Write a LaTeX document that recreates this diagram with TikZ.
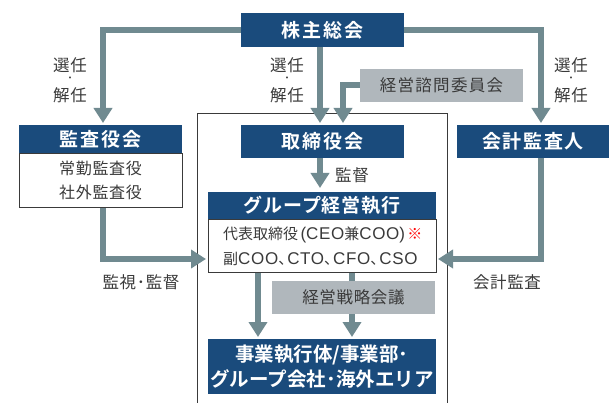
\documentclass[tikz,border=0pt]{standalone}
\usepackage{fontspec}
\setmainfont{Noto Sans CJK JP}
\newfontfamily\cjkb[LetterSpace=9]{Noto Sans CJK JP Bold}
\newfontfamily\cjkbb[LetterSpace=4]{Noto Sans CJK JP Bold}
\newfontfamily\cjkbz{Noto Sans CJK JP Bold}
\newfontfamily\cjk[LetterSpace=4]{Noto Sans CJK JP}
\newfontfamily\cjkw[LetterSpace=8]{Noto Sans CJK JP}
\newfontfamily\cjkz{Noto Sans CJK JP}
\newfontfamily\latw[LetterSpace=4]{Liberation Sans}
\newcommand{\lw}[1]{{\fontsize{17}{25}\selectfont\latw #1}}
\newcommand{\tc}{\makebox[9pt][l]{、}}
\newcommand{\lpar}{\makebox[8pt][r]{\fontsize{17}{25}\selectfont\latw (}}
\newcommand{\rpar}{\makebox[8pt][l]{\fontsize{17}{25}\selectfont\latw )}}
\usetikzlibrary{arrows.meta}
\definecolor{navy}{HTML}{1A4B7C}
\definecolor{arr}{HTML}{708A90}
\definecolor{gbox}{HTML}{B0B7BC}
\definecolor{txt}{HTML}{3A3A3A}
\tikzset{
  hdr/.style={fill=navy, text=white, inner sep=0pt, font=\fontsize{19}{20}\selectfont\cjkb},
  body/.style={fill=white, draw=txt, line width=0.8pt, inner sep=0pt, text=txt, align=center, font=\fontsize{16}{24}\selectfont\cjk},
  gray/.style={fill=gbox, inner sep=0pt, text=txt, font=\fontsize{16.5}{18}\selectfont\cjkw},
  lbl/.style={text=txt, inner sep=0pt, align=center, font=\fontsize{16.5}{15}\selectfont\cjk},
  dot/.style={text=txt, inner sep=0pt, font=\fontsize{12}{12}\selectfont\cjk},
  conn/.style={draw=arr, line width=6pt},
  conna/.style={conn, -{Triangle[width=18pt,length=15pt]}},
}
\begin{document}
\begin{tikzpicture}[x=1pt,y=-1pt]
\useasboundingbox (0,0) rectangle (613,403);
% outline
\draw[txt, line width=0.8pt] (197,404) -- (197,113) -- (447,113) -- (447,404);
% nodes
\node[hdr, minimum width=163pt, minimum height=34pt] (sh) at (322.5,30) {株主総会};
\node[hdr, minimum width=163pt, minimum height=28pt] (ka) at (100.5,139) {監査役会};
\node[body, minimum width=163pt, minimum height=54pt, anchor=north] (kab) at (ka.south) {常勤監査役\\社外監査役};
\node[hdr, minimum width=163pt, minimum height=33pt] (tr) at (322.5,141.5) {取締役会};
\node[gray, minimum width=163pt, minimum height=33pt] (sm) at (441.5,85.5) {経営諮問委員会};
\node[hdr, minimum width=152pt, minimum height=33pt] (kk) at (533,141.5) {会計監査人};
\node[hdr, minimum width=228pt, minimum height=27pt, font=\fontsize{19}{20}\selectfont\cjkbb] (gp) at (322,205.5) {グループ経営執行};
\node[body, minimum width=228pt, minimum height=53pt, anchor=north] (gpb) at (gp.south) {};
\node[text=txt, inner sep=0pt, anchor=west, align=left, font=\fontsize{15}{25}\selectfont\cjkz] (gpt) at (223,246.5)
  {代表取締役\lpar\lw{CEO}兼\lw{COO}\rpar\textcolor{red}{※}\\副\lw{COO}\tc\lw{CTO}\tc\lw{CFO}\tc\lw{CSO}};
% arrows into business units (behind gray box)
\coordinate (jt1) at (258,337);
\coordinate (jt2) at (352,337);
\draw[conna] (gpb.south -| jt1) -- (jt1);
\draw[conna] (gpb.south -| jt2) -- (jt2);
\node[gray, minimum width=163pt, minimum height=33pt, font=\fontsize{16.5}{18}\selectfont\cjk] (sr) at (353.5,297.5) {経営戦略会議};
\node[hdr, minimum width=228pt, minimum height=55pt, align=center, font=\fontsize{19.5}{25}\selectfont\cjkbz] (jg) at (322,366.5) {事業執行体/事業部･\\グループ会社･海外エリア};
% connectors
\coordinate (a1) at (103,123);
\draw[conna] (sh.west) -| (a1);
\coordinate (a2) at (320,123);
\draw[conna] (sh.south -| a2) -- (a2);
\coordinate (a3) at (343,123);
\draw[conna] (sm.west) -| (a3);
\coordinate (a4) at (541,123);
\draw[conna] (sh.east) -| (a4);
\coordinate (a5) at (320,188);
\draw[conna] (tr.south -| a5) -- (a5);
\coordinate (a6) at (206,259);
\draw[conna] (kab.south -| a1) |- (a6);
\coordinate (a7) at (438,259);
\draw[conna] (kk.south -| a4) |- (a7);
% labels
\node[lbl] (l1a) at (70,65) {選任};
\node[dot] (l1b) at (70,80) {･};
\node[lbl] (l1c) at (70,95) {解任};
\node[lbl] (l2a) at (287,65) {選任};
\node[dot] (l2b) at (287,80) {･};
\node[lbl] (l2c) at (287,95) {解任};
\node[lbl] (l3a) at (571,65) {選任};
\node[dot] (l3b) at (571,80) {･};
\node[lbl] (l3c) at (571,95) {解任};
\node[lbl] (l4) at (352,175) {監督};
\node[lbl] (l5) at (141,282) {監視･監督};
\node[lbl] (l6) at (507,282) {会計監査};
\end{tikzpicture}
\end{document}
